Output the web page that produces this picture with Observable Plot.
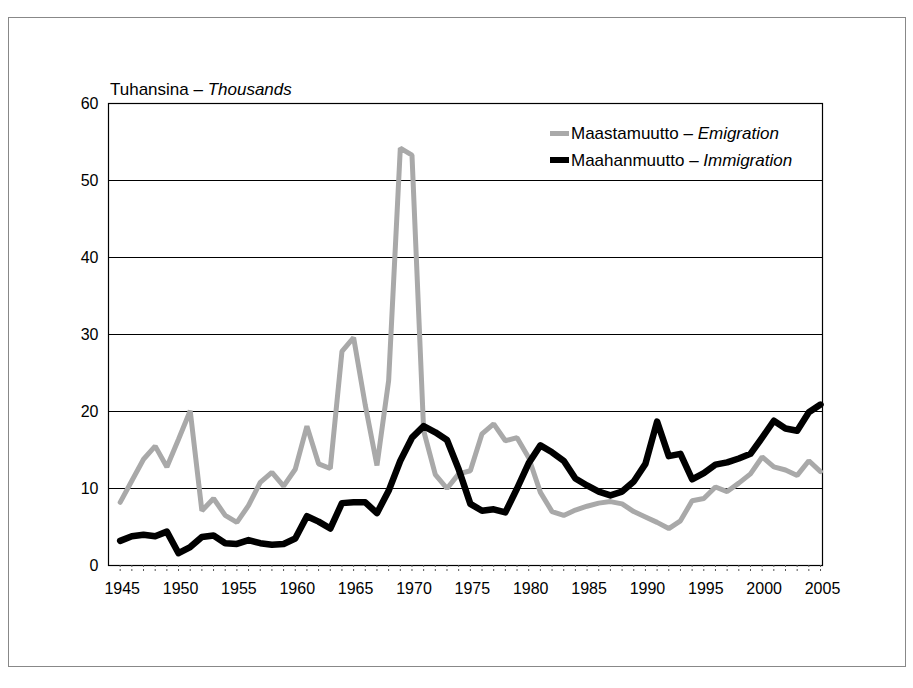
<!DOCTYPE html>
<html>
<head>
<meta charset="utf-8">
<script src="https://cdn.jsdelivr.net/npm/d3@7"></script>
<script src="https://cdn.jsdelivr.net/npm/@observablehq/plot@0.6"></script>
<style>
  body { margin: 0; background: #fff; }
  #wrap { position: relative; width: 913px; height: 688px; font-family: "Liberation Sans", Arial, sans-serif; color: #000; }
  #border { position: absolute; left: 8px; top: 17px; width: 898px; height: 650px; border: 1px solid #888; box-sizing: border-box; }
  #chart { position: absolute; left: 0; top: 0; }
  #title { position: absolute; left: 110px; top: 80.6px; font-size: 17px; line-height: 17px; white-space: nowrap; }
  .leg { position: absolute; left: 550px; font-size: 17px; line-height: 17px; display: flex; align-items: center; white-space: nowrap; }
  .sw { display: inline-block; width: 19px; margin-right: 2px; }
</style>
</head>
<body>
<div id="wrap">
  <div id="border"></div>
  <div id="chart"></div>
  <div id="title">Tuhansina – <i>Thousands</i></div>
  <div class="leg" style="top:124.6px"><span class="sw" style="height:5px;background:#a9a9a9"></span><span>Maastamuutto – <i>Emigration</i></span></div>
  <div class="leg" style="top:151.6px"><span class="sw" style="height:6px;background:#000"></span><span>Maahanmuutto – <i>Immigration</i></span></div>
</div>
<script>
const years = d3.range(1945, 2006);
const emigration = [
  8.2, 11.0, 13.8, 15.5, 12.8, 16.4, 20.1, 7.1, 8.7, 6.5,
  5.6, 7.8, 10.8, 12.1, 10.3, 12.5, 18.1, 13.2, 12.6, 27.8,
  29.6, 20.8, 13.0, 24.0, 54.2, 53.3, 17.5, 11.8, 10.0, 11.9,
  12.3, 17.1, 18.4, 16.2, 16.6, 14.0, 9.5, 7.0, 6.5, 7.2,
  7.7, 8.1, 8.3, 8.0, 7.0, 6.3, 5.6, 4.8, 5.8, 8.4,
  8.7, 10.2, 9.6, 10.7, 11.9, 14.1, 12.8, 12.4, 11.7, 13.6,
  12.2
];
const immigration = [
  3.2, 3.8, 4.0, 3.8, 4.4, 1.6, 2.4, 3.7, 3.9, 2.9,
  2.8, 3.3, 2.9, 2.7, 2.8, 3.5, 6.4, 5.7, 4.8, 8.1,
  8.2, 8.2, 6.8, 9.7, 13.6, 16.6, 18.1, 17.3, 16.3, 12.5,
  8.0, 7.1, 7.3, 6.9, 10.0, 13.3, 15.6, 14.7, 13.6, 11.3,
  10.4, 9.6, 9.1, 9.6, 10.9, 13.2, 18.7, 14.2, 14.5, 11.2,
  12.0, 13.1, 13.4, 13.9, 14.5, 16.6, 18.8, 17.8, 17.5, 19.9,
  20.9
];
const labelYears = d3.range(1945, 2006, 5);
const yTicks = [0, 10, 20, 30, 40, 50, 60];

const emi = years.map((year, i) => ({year, value: emigration[i]}));
const imm = years.map((year, i) => ({year, value: immigration[i]}));

const chart = Plot.plot({
  width: 913,
  height: 688,
  marginLeft: 108,
  marginRight: 91,
  marginTop: 103,
  marginBottom: 123,
  x: {domain: [1944, 2005.17], label: null},
  y: {domain: [0, 60], label: null},
  style: {fontFamily: "'Liberation Sans', Arial, sans-serif", fontSize: "16px", color: "#000", background: "transparent", overflow: "visible"},
  marks: [
    Plot.ruleY(yTicks.slice(1, -1), {stroke: "#000", strokeWidth: 1}),
    Plot.frame({stroke: "#000", strokeWidth: 1.2}),
    Plot.axisY({ticks: yTicks, tickSize: 0, tickPadding: 10, fontSize: 16, label: null, tickFormat: d => String(d)}),
    Plot.axisX({ticks: years, tickSize: 8, tickFormat: () => "", stroke: "#555", strokeDasharray: "2,2", label: null}),
    Plot.axisX({ticks: labelYears, tickSize: 0, tickPadding: 17, fontSize: 16, label: null, tickFormat: d => String(d), dx: 2}),
    Plot.line(emi, {x: "year", y: "value", stroke: "#a9a9a9", strokeWidth: 5, strokeLinejoin: "miter"}),
    Plot.line(imm, {x: "year", y: "value", stroke: "#000", strokeWidth: 6.5, strokeLinejoin: "round"})
  ]
});
document.getElementById("chart").appendChild(chart);
</script>
</body>
</html>
